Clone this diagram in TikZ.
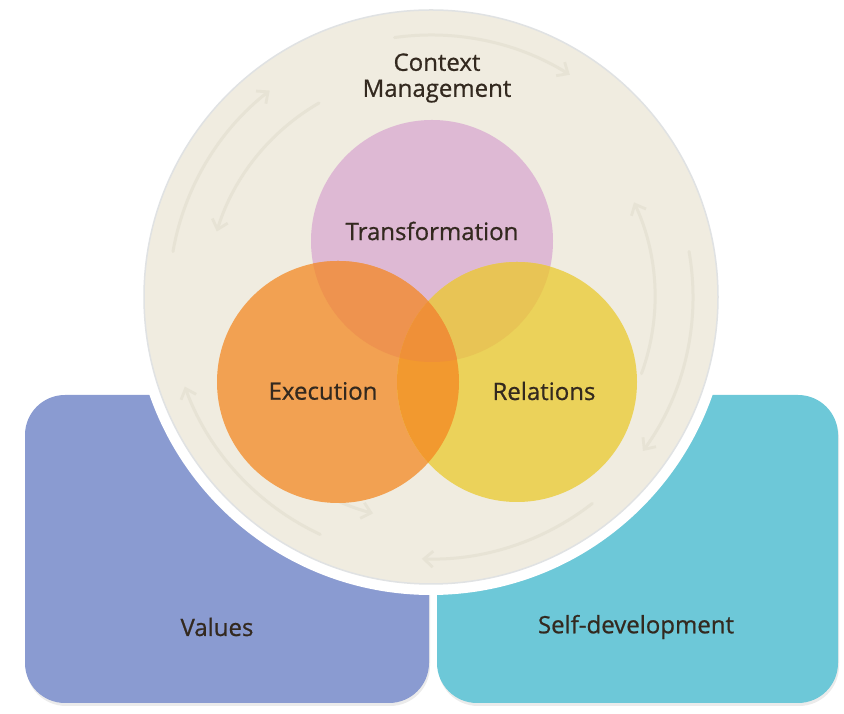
\documentclass[tikz,border=0pt]{standalone}
\usepackage{fontspec}
\setmainfont{Open Sans}[FakeBold=0.7]
\usetikzlibrary{arrows.meta,calc}
\definecolor{valblue}{HTML}{8A9BD1}
\definecolor{selfcyan}{HTML}{6DC8D8}
\definecolor{beige}{HTML}{F0ECE0}
\definecolor{ringline}{HTML}{E7E3D5}
\definecolor{rimgrey}{HTML}{E0E2E3}
\definecolor{cpink}{HTML}{DEB9D4}
\definecolor{corange}{HTML}{F2A152}
\definecolor{cyellow}{HTML}{EBD25A}
\definecolor{cpo}{HTML}{EE934F}
\definecolor{cpy}{HTML}{E8C455}
\definecolor{coy}{HTML}{F2992F}
\definecolor{cpoy}{HTML}{EF9038}
\definecolor{txt}{HTML}{33291F}
\tikzset{
  lbl/.style={font=\fontsize{24}{28}\selectfont, text=txt, align=center, inner sep=0pt},
  boxshape/.style={rounded corners=40pt},
  ringarc/.style={draw=ringline, line width=3pt, line cap=round, -{Straight Barb[length=9pt,width=16pt,line width=2.8pt]}},
}
\begin{document}
\begin{tikzpicture}[x=1pt,y=1pt]
\useasboundingbox (0,0) rectangle (844,714);
% bottom boxes with faint shadow
\fill[black!8, boxshape] (26,8) rectangle (430,316);
\fill[black!8, boxshape] (438,8) rectangle (839,316);
\fill[valblue, boxshape] (25,11) rectangle (429,319);
\fill[selfcyan, boxshape] (437,11) rectangle (838,319);
% big context circle
\fill[white] (431,417) circle (298);
\filldraw[fill=beige, draw=rimgrey, line width=1.5pt] (431,417) circle (287);
% faint circular arrows
\coordinate (cc) at (431,417);
\foreach \a/\b in {170/128, 98/58, 10/-36, -52/-92, 245/200}{
  \draw[ringarc] ($(cc)+(\a:262)$) arc[start angle=\a, end angle=\b, radius=262];
}
\foreach \a/\b in {120/163, 210/255, -20/25}{
  \draw[ringarc] ($(cc)+(\a:224)$) arc[start angle=\a, end angle=\b, radius=224];
}
% venn circles
\fill[cpink] (432,473) circle (121);
\fill[corange] (338,332) circle (121);
\fill[cyellow] (517,332) circle (120);
\begin{scope}
  \clip (432,473) circle (121);
  \fill[cpo] (338,332) circle (121);
  \fill[cpy] (517,332) circle (120);
\end{scope}
\begin{scope}
  \clip (338,332) circle (121);
  \fill[coy] (517,332) circle (120);
  \clip (517,332) circle (120);
  \fill[cpoy] (432,473) circle (121);
\end{scope}
% labels
\node[lbl] (ctx) at (437,636) {Context\\[-2pt]Management};
\node[lbl] (tr) at (432,483) {Transformation};
\node[lbl] (ex) at (323,323) {Execution};
\node[lbl] (re) at (544,323) {Relations};
\node[lbl] (va) at (217,87) {Values};
\node[lbl] (sd) at (636,87) {Self-development};
\end{tikzpicture}
\end{document}
